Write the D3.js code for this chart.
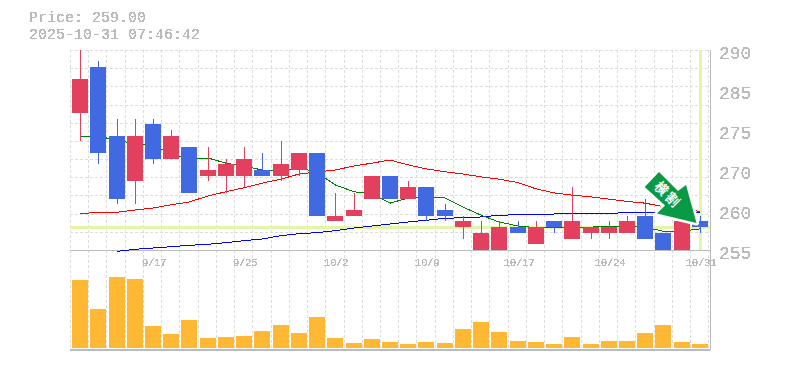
<!DOCTYPE html>
<html>
<head>
<meta charset="utf-8">
<script src="https://cdn.jsdelivr.net/npm/d3@7/dist/d3.min.js"></script>
<style>
html, body { margin: 0; padding: 0; background: #fff; }
svg { display: block; }
text { fill: #bbb; font-family: "Liberation Mono", monospace; }
</style>
</head>
<body>
<div id="chart"></div>
<script>
const width = 785;
const height = 370;

const dates = ["9/10","9/11","9/12","9/16","9/17","9/18","9/19","9/22","9/24","9/25","9/26","9/29","9/30","10/1","10/2","10/3","10/6","10/7","10/8","10/9","10/10","10/14","10/15","10/16","10/17","10/20","10/21","10/22","10/23","10/24","10/27","10/28","10/29","10/30","10/31"];
const open_ = [279,287,275,267,277,271,273,268,268,268,269,268,269,272,260,261,264,268,264,266,262,259,255,255,259,256,260,257,258,258,258,261,258,255,260];
const close_ = [285,272,264,275,271,275,265,269,270,271,268,270,272,261,261,262,268,264,266,261,261,260,258,259,258,259,259,260,259,259,260,257,255,260,259];
const high = [291,288,278,278,278,276,273,273,271,273,272,274,272,272,265,265,268,268,267,266,263,261,260,260,260,260,260,266,259,260,261,264,258,260,261];
const low = [274,270,263,263,270,271,265,267,265,266,268,267,268,261,260,261,264,264,264,260,260,257,255,255,258,256,258,257,257,257,258,257,255,255,258];
const ma5 = [274.8,275,274.1,273.7,273.2,272,270.8,271.1,270.2,269.7,269,268.8,269.4,268.6,266.4,265.2,264.8,263.2,264.1,264.3,264.1,262.5,261.1,259.9,259.2,258.9,258.9,258.9,259,259.2,259.2,259,258.3,258.3,258.7];
const ma25 = [261.35,261.6,261.6,262,262.35,262.9,263.4,264.45,265.2,265.9,266.7,267.4,268.3,268.65,269,269.7,270.2,270.75,269.9,269.2,268.7,268.3,267.8,267.4,266.8,265.7,265,264.6,264.3,263.9,263.5,263.2,262.6,262.2,261.75];
const ma75 = [null,null,254.77,255.12,255.35,255.58,255.82,256,256.28,256.63,256.93,257.5,257.85,258.03,258.38,258.85,259.2,259.55,259.9,260.2,260.55,260.65,260.78,261.07,261.18,261.18,261.3,261.35,261.42,261.42,261.53,261.6,261.6,261.55,261.5];
const volume = [68,39,71,69,22,14,28,10,11,12,17,23,15,31,10,5,9,6,4,6,5,19,26,16,7,6,4,11,4,7,7,15,23,6,4];
const priceTicks = [290,283,276,269,262,255];
const priceLabels = ["290","285","275","270","260","255"];
const lastPrice = 259;
const stamp = "2025-10-31 07:46:42";
const arrowShape = [[659,172],[678,191],[686,185],[696.5,223],[657,213.5],[665,205.5],[644.7,187]];

const plotLeft = 70, plotRight = 710, plotTop = 50, plotMid = 250, plotBottom = 350;

const svg = d3.select("#chart")
              .append("svg")
              .attr("width", width)
              .attr("height", height);

// the original text has no smoothing, so threshold the alpha
svg.append("filter")
   .attr("id", "hard")
   .attr("x", 0).attr("y", 0).attr("width", 1).attr("height", 1)
   .attr("color-interpolation-filters", "sRGB")
   .append("feComponentTransfer")
   .append("feFuncA")
   .attr("type", "discrete")
   .attr("tableValues", "0 1 1");

const x = d3.scaleBand()
            .domain(d3.range(dates.length))
            .range([71, 709])
            .paddingInner(0.12)
            .paddingOuter(0.06);
const cx = i => Math.round(x(i) + x.bandwidth() / 2);
const y = d3.scaleLinear().domain([255, 290]).range([plotMid, plotTop]);
const yVol = d3.scaleLinear().domain([0, 80]).range([348, 268]);

// grid
const grid = svg.append("g")
                .attr("stroke", "#ddd")
                .attr("stroke-dasharray", "3,2")
                .attr("shape-rendering", "crispEdges");
d3.range(12).forEach(k => {
    const gy = Math.round(plotTop + k * (plotMid - plotTop) / 11);
    grid.append("line").attr("x1", plotLeft).attr("x2", plotRight).attr("y1", gy).attr("y2", gy);
});
d3.range(36).forEach(k => {
    const gx = Math.round(plotLeft + k * 18.235);
    grid.append("line").attr("x1", gx).attr("x2", gx).attr("y1", plotTop).attr("y2", plotBottom);
});

// current price cross
svg.append("line")
   .attr("x1", plotLeft).attr("x2", plotRight)
   .attr("y1", y(lastPrice)).attr("y2", y(lastPrice))
   .attr("stroke", "#e3f5a8").attr("stroke-width", 3)
   .attr("shape-rendering", "crispEdges");
svg.append("line")
   .attr("x1", cx(34)).attr("x2", cx(34))
   .attr("y1", plotTop).attr("y2", plotMid)
   .attr("stroke", "#e3f5a8").attr("stroke-width", 3)
   .attr("shape-rendering", "crispEdges");

// frame
const frame = svg.append("g").attr("stroke", "#bbb").attr("shape-rendering", "crispEdges");
frame.append("line").attr("x1", plotLeft).attr("x2", plotRight).attr("y1", plotMid).attr("y2", plotMid);
frame.append("line").attr("x1", plotLeft).attr("x2", plotRight).attr("y1", plotBottom).attr("y2", plotBottom).attr("stroke-width", 2);
frame.append("line").attr("x1", plotRight).attr("x2", plotRight).attr("y1", plotTop).attr("y2", plotBottom);

// moving averages, under the candles
const line = d3.line()
               .defined(d => d !== null)
               .x((d, i) => cx(i))
               .y(d => y(d));
[[ma75, "#0000ff"], [ma25, "#ff0000"], [ma5, "#008000"]].forEach(([s, c]) => {
    svg.append("path")
       .attr("d", line(s))
       .attr("fill", "none")
       .attr("stroke", c)
       .attr("shape-rendering", "crispEdges");
});

// candles
const colorUp = "#e3405f";
const colorDown = "#4169e1";
svg.append("clipPath").attr("id", "plot")
   .append("rect").attr("x", plotLeft).attr("y", plotTop).attr("width", plotRight - plotLeft).attr("height", plotMid - plotTop);
const candles = svg.append("g").attr("clip-path", "url(#plot)").attr("shape-rendering", "crispEdges");
const color = i => close_[i] >= open_[i] ? colorUp : colorDown;

candles.selectAll("line")
       .data(d3.range(dates.length))
       .join("line")
       .attr("x1", cx).attr("x2", cx)
       .attr("y1", i => y(high[i]))
       .attr("y2", i => y(low[i]))
       .attr("stroke", color);

candles.selectAll("rect")
       .data(d3.range(dates.length))
       .join("rect")
       .attr("x", i => cx(i) - 8)
       .attr("width", 16)
       .attr("y", i => y(Math.max(open_[i], close_[i])))
       .attr("height", i => Math.abs(y(open_[i]) - y(close_[i])))
       .attr("fill", color);

// volume
svg.append("g")
   .attr("shape-rendering", "crispEdges")
   .selectAll("rect")
   .data(volume)
   .join("rect")
   .attr("x", (d, i) => cx(i) - 8)
   .attr("width", 16)
   .attr("y", d => yVol(d))
   .attr("height", d => yVol(0) - yVol(d))
   .attr("fill", "#ffb833");

// axis labels
const labels = svg.append("g").attr("filter", "url(#hard)");
const xLabels = labels.append("g").attr("font-size", 11).attr("text-anchor", "middle");
dates.forEach((d, i) => {
    if (i % 5 != 4) return;
    xLabels.append("text").attr("x", cx(i) + 1).attr("y", 266).attr("letter-spacing", "-0.5").text(d);
});
priceTicks.forEach((p, i) => {
    labels.append("text")
       .attr("x", 719).attr("y", y(p) + 9)
       .attr("font-size", 18)
       .text(priceLabels[i]);
});

// header
labels.append("text").attr("x", 29).attr("y", 22).attr("font-size", 15).text("Price: " + lastPrice.toFixed(2));
labels.append("text").attr("x", 29).attr("y", 39).attr("font-size", 15).text(stamp);

// arrow badge, with the white margin it has in the original
const badge = svg.append("g");
badge.append("polygon")
     .attr("points", arrowShape.map(p => p.join(",")).join(" "))
     .attr("fill", "#fff")
     .attr("stroke", "#fff")
     .attr("stroke-width", 5)
     .attr("stroke-linejoin", "round");
badge.append("polygon")
     .attr("points", arrowShape.map(p => p.join(",")).join(" "))
     .attr("fill", "#0a9a46");
badge.append("text")
     .attr("transform", "translate(658.5,191.5) rotate(45)")
     .attr("text-anchor", "middle")
     .attr("font-family", "'Noto Sans CJK JP'")
     .attr("font-size", 13)
     .attr("font-weight", 700)
     .style("fill", "#fff")
     .text("横")
badge.append("text")
     .attr("transform", "translate(669.5,202.5) rotate(45)")
     .attr("text-anchor", "middle")
     .attr("font-family", "'Noto Sans CJK JP'")
     .attr("font-size", 13)
     .attr("font-weight", 700)
     .style("fill", "#fff")
     .text("割")
</script>
</body>
</html>
